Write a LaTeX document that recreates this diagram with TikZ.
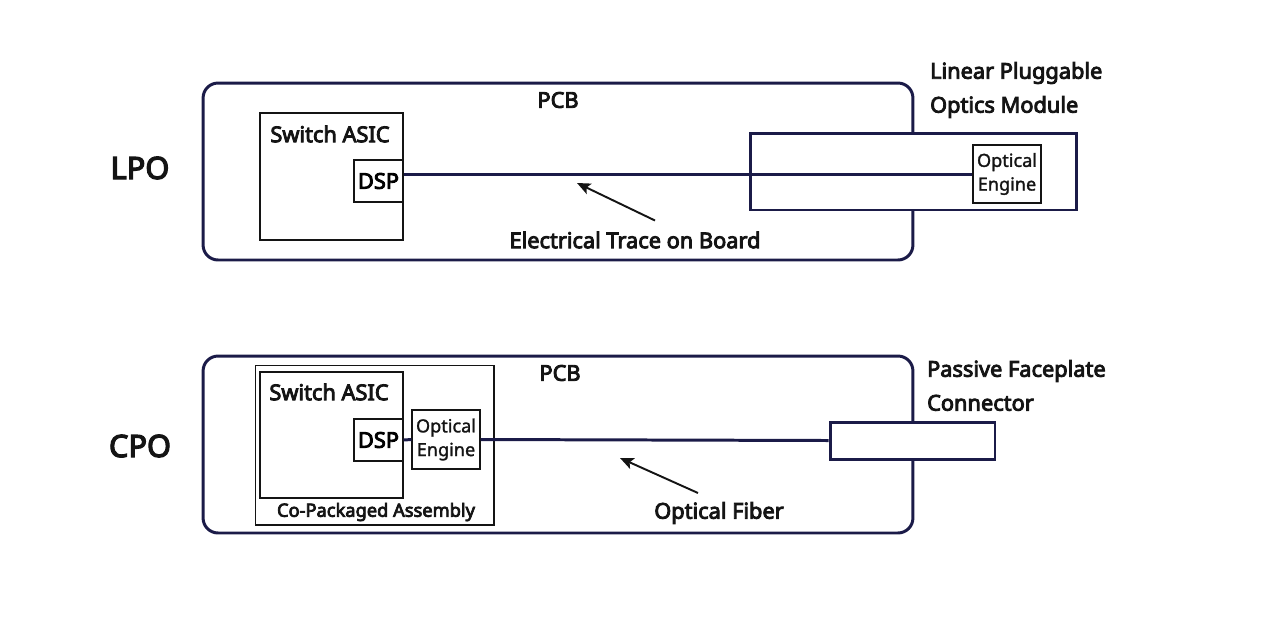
\documentclass[tikz,border=0pt]{standalone}
\usepackage{fontspec}
\setmainfont{Noto Sans}
\newfontfamily\labfont{Noto Sans}[FakeBold=4]
\newfontfamily\thinfont{Noto Sans}[FakeBold=1.5]
\usepackage{tikz}
\usetikzlibrary{arrows.meta,calc}
\definecolor{pcbnavy}{RGB}{27,27,72}
\definecolor{inkblack}{RGB}{20,20,20}

\begin{document}
\begin{tikzpicture}[
  x=0.02cm, y=-0.02cm,
  board/.style={draw=pcbnavy, line width=1.7pt, rounded corners=0.3cm, minimum width=14.2cm, minimum height=3.54cm},
  plug/.style={draw=pcbnavy, fill=white, line width=1.7pt, inner sep=0pt},
  chip/.style={draw=inkblack, line width=0.6pt, fill=white, inner sep=0pt, align=center},
  lab/.style={font=\labfont\fontsize{12.4}{19.3}\selectfont, text=inkblack, inner sep=1pt},
  smalllab/.style={font=\thinfont\fontsize{10.3}{13.5}\selectfont, text=inkblack, align=center},
  tag/.style={font=\labfont\fontsize{17.5}{20}\selectfont, text=inkblack},
  trace/.style={draw=pcbnavy, line width=1.7pt},
  pointer/.style={-{Stealth[length=2.7mm, width=2.3mm, inset=0.6mm]}, line width=1.1pt, inkblack},
]
\useasboundingbox (0,0) rectangle (1280,620);
% LPO
\node[board] (pcbA) at (558,171.5) {};
\node[lab] (pcbLblA) at (558,100) {PCB};
\node[chip, minimum width=2.86cm, minimum height=2.54cm] (asicA) at (331.5,176.5) {};
\node[lab] (asicLblA) at (330,134) {Switch ASIC};
\node[chip, minimum width=0.98cm, minimum height=0.84cm, font=\labfont\fontsize{12.4}{14}\selectfont] (dspA) at (378.5,181) {DSP};
\node[plug, minimum width=6.54cm, minimum height=1.54cm] (modA) at (913.5,171.5) {};
\node[chip, smalllab, minimum width=1.36cm, minimum height=1.16cm] (oeA) at (1007,174) {Optical\\Engine};
\draw[trace] (dspA.east |- oeA.west) -- (oeA.west);
\node[lab, anchor=west, align=left] (modLblA) at (928,90) {Linear Pluggable\\Optics Module};
\node[lab] (traceLblA) at (635,240) {Electrical Trace on Board};
\coordinate (tipA) at (577,183);
\draw[pointer] ([xshift=0.4cm, yshift=0.18cm]traceLblA.north) -- (tipA);
\node[tag] (lpo) at (140,168) {LPO};
% CPO
\node[board] (pcbB) at (558,444.5) {};
\node[lab] (pcbLblB) at (560,373) {PCB};
\node[chip, minimum width=4.78cm, minimum height=3.2cm] (cpaB) at (374.5,445) {};
\node[chip, minimum width=2.86cm, minimum height=2.52cm] (asicB) at (331.5,435) {};
\node[lab] (asicLblB) at (329,392) {Switch ASIC};
\node[chip, minimum width=0.98cm, minimum height=0.84cm, font=\labfont\fontsize{12.4}{14}\selectfont] (dspB) at (378.5,440) {DSP};
\node[chip, smalllab, minimum width=1.36cm, minimum height=1.18cm] (oeB) at (446,439.5) {Optical\\Engine};
\node[lab, font=\labfont\fontsize{10.4}{12}\selectfont] (cpaLblB) at (376,512) {Co-Packaged Assembly};
\node[plug, minimum width=3.3cm, minimum height=0.74cm] (conB) at (912.5,440.5) {};
\draw[trace] (dspB.east) -- (oeB.west);
\draw[trace] (oeB.east) -- (conB.west);
\node[lab, anchor=west, align=left] (conLblB) at (925,385.5) {Passive Faceplate\\Connector};
\node[lab] (fiberLblB) at (719,513) {Optical Fiber};
\coordinate (tipB) at (620,458);
\draw[pointer] ([xshift=-0.42cm, yshift=0.14cm]fiberLblB.north) -- (tipB);
\node[tag] (cpo) at (140,446) {CPO};
\end{tikzpicture}
\end{document}
